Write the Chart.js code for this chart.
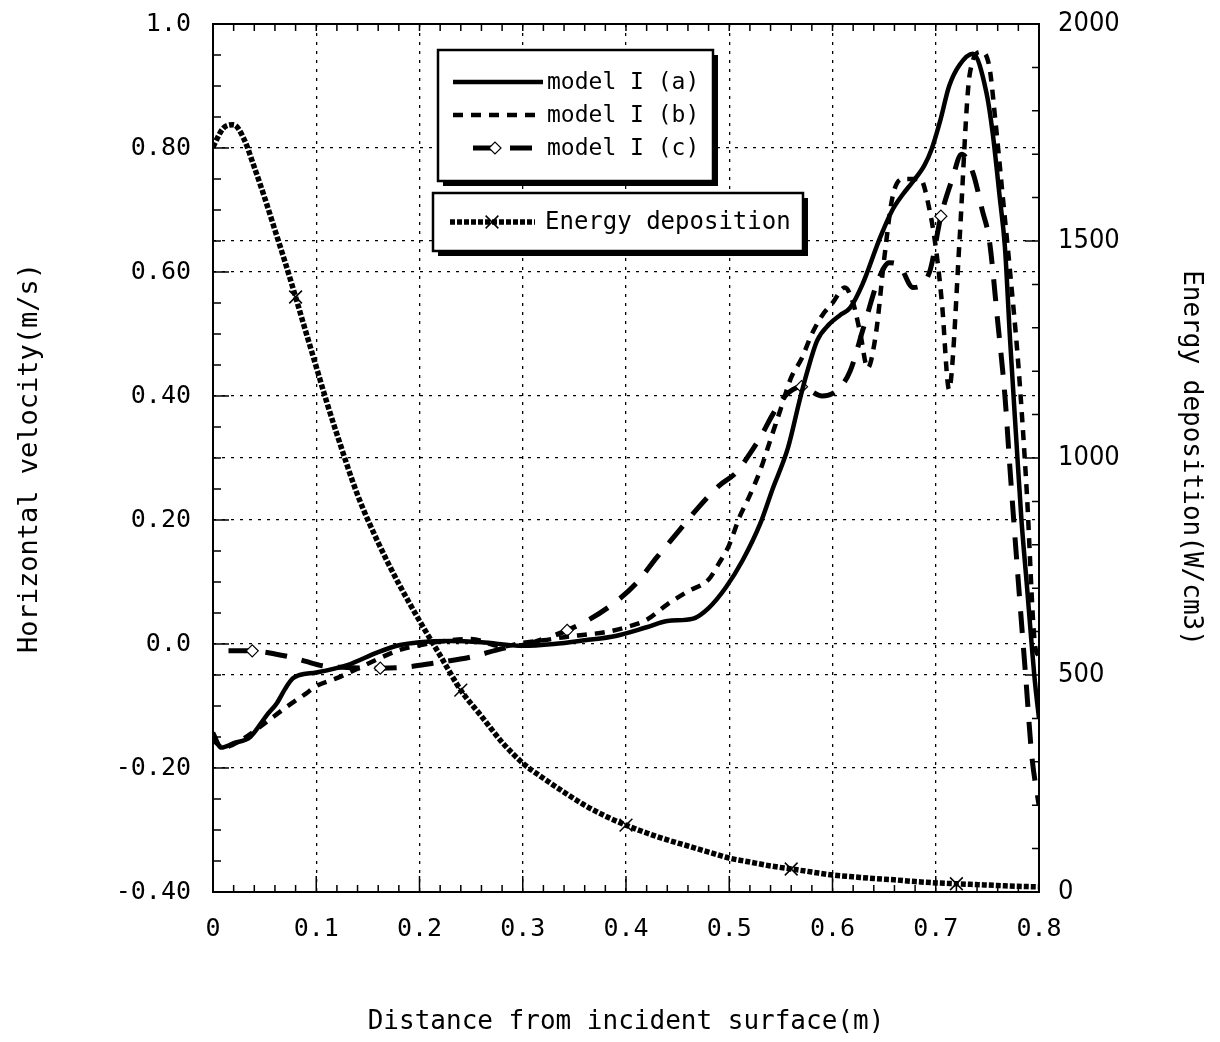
<!DOCTYPE html>
<html>
<head>
<meta charset="utf-8">
<script src="https://cdn.jsdelivr.net/npm/chart.js@4.4.0/dist/chart.umd.min.js"></script>
<style>
    html, body { margin: 0; padding: 0; background: #fff; }
    #wrap { width: 1220px; height: 1042px; }
</style>
</head>
<body>
<div id="wrap"><canvas id="chart"></canvas></div>
<script>
// tick labels as printed on the figure
const xTickLabels = ['0', '0.1', '0.2', '0.3', '0.4', '0.5', '0.6', '0.7', '0.8'];
const velTickLabels = ['-0.40', '-0.20', '0.0', '0.20', '0.40', '0.60', '0.80', '1.0'];
const energyTickLabels = ['0', '500', '1000', '1500', '2000'];

// model I (a) - solid
const distA = [0, 0.008, 0.02, 0.036, 0.052, 0.062, 0.07, 0.077, 0.084, 0.1,
    0.13, 0.16, 0.18, 0.2, 0.23, 0.26, 0.3, 0.33, 0.36, 0.39,
    0.42, 0.44, 0.465, 0.48, 0.497, 0.513, 0.53, 0.542, 0.557, 0.568,
    0.575, 0.585, 0.597, 0.607, 0.617, 0.629, 0.646, 0.658, 0.668, 0.678,
    0.689, 0.696, 0.704, 0.713, 0.723, 0.736, 0.749, 0.755, 0.762, 0.767,
    0.772, 0.778, 0.783, 0.788, 0.796, 0.8];
const velA = [-0.143, -0.167, -0.16, -0.15, -0.115, -0.095, -0.072, -0.056, -0.05, -0.046,
    -0.034, -0.013, -0.002, 0.003, 0.005, 0.003, -0.003, 0.0, 0.006, 0.013,
    0.027, 0.037, 0.041, 0.058, 0.092, 0.135, 0.194, 0.25, 0.317, 0.392,
    0.436, 0.489, 0.516, 0.53, 0.542, 0.58, 0.655, 0.70, 0.725, 0.746,
    0.772, 0.798, 0.842, 0.9, 0.934, 0.952, 0.89, 0.826, 0.72, 0.64,
    0.49, 0.33, 0.2, 0.10, -0.06, -0.12];

// model I (b) - short dashes
const distB = [0, 0.01, 0.03, 0.05, 0.07, 0.09, 0.1, 0.12, 0.14, 0.16,
    0.18, 0.2, 0.22, 0.25, 0.28, 0.3, 0.32, 0.34, 0.36, 0.38,
    0.4, 0.42, 0.44, 0.46, 0.48, 0.49, 0.5, 0.51, 0.52, 0.53,
    0.54, 0.55, 0.56, 0.57, 0.58, 0.59, 0.6, 0.612, 0.62, 0.627,
    0.634, 0.642, 0.65, 0.658, 0.668, 0.685, 0.694, 0.7, 0.706, 0.713,
    0.716, 0.723, 0.733, 0.744, 0.752, 0.758, 0.765, 0.772, 0.78, 0.788,
    0.796, 0.8];
const velB = [-0.155, -0.167, -0.152, -0.128, -0.103, -0.08, -0.068, -0.055, -0.04, -0.024,
    -0.01, -0.002, 0.004, 0.008, -0.004, 0.002, 0.006, 0.011, 0.015, 0.019,
    0.027, 0.039, 0.064, 0.085, 0.104, 0.13, 0.16, 0.205, 0.24, 0.28,
    0.33, 0.38, 0.43, 0.46, 0.5, 0.53, 0.55, 0.575, 0.55, 0.50,
    0.445, 0.50, 0.62, 0.72, 0.75, 0.75, 0.70, 0.64, 0.55, 0.41,
    0.45, 0.65, 0.92, 0.955, 0.93, 0.84, 0.72, 0.60, 0.45, 0.25,
    0.0, -0.02];

// model I (c) - long dashes with open markers
const distC = [0.015, 0.038, 0.06, 0.075, 0.09, 0.106, 0.13, 0.162, 0.188, 0.213,
    0.25, 0.281, 0.3, 0.32, 0.343, 0.365, 0.39, 0.41, 0.43, 0.45,
    0.47, 0.49, 0.507, 0.52, 0.532, 0.542, 0.554, 0.57, 0.59, 0.605,
    0.617, 0.63, 0.645, 0.655, 0.665, 0.678, 0.694, 0.705, 0.716, 0.725,
    0.736, 0.745, 0.752, 0.76, 0.767, 0.772, 0.78, 0.787, 0.793, 0.8];
const velC = [-0.011, -0.011, -0.016, -0.021, -0.028, -0.035, -0.038, -0.039, -0.037, -0.031,
    -0.021, -0.007, -0.002, 0.008, 0.022, 0.04, 0.068, 0.098, 0.14, 0.18,
    0.22, 0.255, 0.277, 0.307, 0.339, 0.37, 0.40, 0.415, 0.40, 0.41,
    0.44, 0.51, 0.59, 0.615, 0.61, 0.575, 0.60, 0.69, 0.75, 0.79,
    0.76, 0.70, 0.65, 0.52, 0.40, 0.28, 0.10, -0.05, -0.18, -0.26];
const markC = [0.038, 0.162, 0.343, 0.57, 0.705];

// energy deposition (W/cm3) - right axis
const distE = [0, 0.01, 0.02, 0.03, 0.04, 0.05, 0.06, 0.07, 0.08, 0.09, 0.1, 0.11,
    0.12, 0.14, 0.16, 0.18, 0.2, 0.22, 0.24, 0.26, 0.28, 0.3,
    0.32, 0.34, 0.36, 0.38, 0.4, 0.42, 0.44, 0.46, 0.48, 0.5,
    0.52, 0.54, 0.56, 0.58, 0.6, 0.62, 0.64, 0.66, 0.68, 0.7,
    0.72, 0.74, 0.76, 0.78, 0.8];
const energy = [1717, 1760, 1768, 1735, 1670, 1600, 1525, 1450, 1371, 1290, 1210, 1130,
    1055, 915, 805, 710, 625, 545, 465, 405, 345, 297,
    262, 230, 200, 175, 154, 136, 120, 106, 92, 78,
    69, 60, 53, 46, 39, 35, 31, 28, 24, 21,
    19, 17, 15, 13, 12];
const markE = [0.08, 0.24, 0.4, 0.56, 0.72];

const MONO = '"DejaVu Sans Mono", monospace';
const NARROW = '"Liberation Sans Narrow", "DejaVu Sans Condensed", "DejaVu Sans Mono", sans-serif';

const toPoints = (xs, ys) => xs.map((x, i) => ({ x: x, y: ys[i] }));
const markAt = (list, r) => c => (c.raw && list.includes(c.raw.x)) ? r : 0;

// grid: dotted lines, invisible outer ticks used only as label spacing
const dottedGrid = len => ({
    color: '#000',
    lineWidth: 1.3,
    drawTicks: true,
    tickLength: len,
    tickColor: 'rgba(0,0,0,0)'
});

// inward tick marks and plot frame, like the original plot
const axisDecor = {
    id: 'axisDecor',
    afterDatasetsDraw(chart) {
        const { ctx, chartArea: a, scales: { x, y, y2 } } = chart;
        ctx.save();
        ctx.strokeStyle = '#000';
        ctx.lineWidth = 1.5;
        ctx.beginPath();
        for (let i = 0; i <= 40; i++) {
            const px = x.getPixelForValue(i * 0.02);
            ctx.moveTo(px, a.bottom);
            ctx.lineTo(px, a.bottom - (i % 5 === 0 ? 16 : 7));
            ctx.moveTo(px, a.top);
            ctx.lineTo(px, a.top + 7);
        }
        for (let i = 0; i <= 28; i++) {
            const py = y.getPixelForValue(-0.4 + i * 0.05);
            ctx.moveTo(a.left, py);
            ctx.lineTo(a.left + (i % 4 === 0 ? 16 : 8), py);
        }
        for (let i = 0; i <= 20; i++) {
            const py = y2.getPixelForValue(i * 100);
            ctx.moveTo(a.right, py);
            ctx.lineTo(a.right - (i % 5 === 0 ? 14 : 7), py);
        }
        ctx.stroke();
        ctx.lineWidth = 2;
        ctx.strokeRect(a.left, a.top, a.right - a.left, a.bottom - a.top);
        ctx.restore();
    }
};

// the two boxed legends with drop shadows
const boxLegend = {
    id: 'boxLegend',
    afterDraw(chart) {
        const ctx = chart.ctx;
        const ds = chart.data.datasets;

        const box = (x, y, w, h) => {
            ctx.save();
            ctx.fillStyle = '#000';
            ctx.fillRect(x + 5, y + 5, w, h);
            ctx.fillStyle = '#fff';
            ctx.fillRect(x, y, w, h);
            ctx.lineWidth = 2.5;
            ctx.strokeStyle = '#000';
            ctx.strokeRect(x, y, w, h);
            ctx.restore();
        };

        const sample = (d, x1, x2, yy, markX, label, x3, size) => {
            ctx.save();
            ctx.strokeStyle = '#000';
            ctx.lineWidth = d.borderWidth;
            ctx.setLineDash(d.borderDash || []);
            ctx.beginPath();
            ctx.moveTo(x1, yy);
            ctx.lineTo(x2, yy);
            ctx.stroke();
            ctx.setLineDash([]);
            if (markX) {
                ctx.fillStyle = '#fff';
                ctx.lineWidth = d.pointBorderWidth;
                Chart.helpers.drawPoint(ctx, {
                    pointStyle: d.pointStyle, radius: d.legendRadius,
                    borderWidth: d.pointBorderWidth, rotation: 0
                }, markX, yy);
            }
            ctx.fillStyle = '#000';
            ctx.font = size + 'px ' + MONO;
            ctx.textBaseline = 'middle';
            ctx.fillText(label, x3, yy + 1);
            ctx.restore();
        };

        box(438, 50, 275, 131);
        sample(ds[0], 453, 543, 82, null, ds[0].label, 547, 23);
        sample(ds[1], 453, 543, 115, null, ds[1].label, 547, 23);
        sample(ds[2], 473, 537, 148, 495, ds[2].label, 547, 23);

        box(433, 193, 370, 58);
        sample(ds[3], 450, 535, 222, 492, ds[3].label, 545, 24);
    }
};

new Chart(document.getElementById('chart'), {
    type: 'line',
    data: {
        datasets: [
            {
                label: 'model I (a)',
                data: toPoints(distA, velA),
                yAxisID: 'y',
                borderColor: '#000',
                borderWidth: 4.5,
                pointRadius: 0,
                cubicInterpolationMode: 'monotone'
            },
            {
                label: 'model I (b)',
                data: toPoints(distB, velB),
                yAxisID: 'y',
                borderColor: '#000',
                borderWidth: 4.5,
                borderDash: [10, 8],
                pointRadius: 0,
                cubicInterpolationMode: 'monotone'
            },
            {
                label: 'model I (c)',
                data: toPoints(distC, velC),
                yAxisID: 'y',
                borderColor: '#000',
                borderWidth: 5,
                borderDash: [22, 15],
                pointStyle: 'rectRot',
                pointRadius: markAt(markC, 6),
                legendRadius: 6,
                pointBackgroundColor: '#fff',
                pointBorderColor: '#000',
                pointBorderWidth: 1.2,
                cubicInterpolationMode: 'monotone'
            },
            {
                label: 'Energy deposition',
                data: toPoints(distE, energy),
                yAxisID: 'y2',
                borderColor: '#000',
                borderWidth: 5.5,
                borderDash: [5, 2],
                pointStyle: 'crossRot',
                pointRadius: markAt(markE, 9),
                legendRadius: 9,
                pointBorderColor: '#000',
                pointBorderWidth: 1.5,
                cubicInterpolationMode: 'monotone'
            }
        ]
    },
    options: {
        responsive: true,
        maintainAspectRatio: false,
        animation: false,
        events: [],
        layout: { padding: { top: 24, left: 0, right: 0, bottom: 0 } },
        plugins: {
            legend: { display: false },
            tooltip: { enabled: false }
        },
        scales: {
            x: {
                type: 'linear',
                min: 0,
                max: 0.8,
                afterFit: s => { s.height = 150; },
                ticks: {
                    stepSize: 0.1,
                    color: '#000',
                    padding: 0,
                    maxRotation: 0,
                    font: { family: MONO, size: 25 },
                    callback: (v, i) => xTickLabels[i]
                },
                grid: dottedGrid(22),
                border: { display: false, dash: [3, 6] },
                title: {
                    display: true,
                    text: 'Distance from incident surface(m)',
                    color: '#000',
                    font: { family: MONO, size: 26 },
                    padding: { top: 0, bottom: 4 }
                }
            },
            y: {
                type: 'linear',
                position: 'left',
                min: -0.4,
                max: 1.0,
                afterFit: s => { s.width = 213; },
                ticks: {
                    stepSize: 0.2,
                    color: '#000',
                    padding: 0,
                    font: { family: MONO, size: 25 },
                    callback: (v, i) => velTickLabels[i]
                },
                grid: dottedGrid(22),
                border: { display: false, dash: [3, 6] },
                title: {
                    display: true,
                    text: 'Horizontal velocity(m/s)',
                    color: '#000',
                    font: { family: MONO, size: 27 },
                    padding: { top: 14, bottom: 0 }
                }
            },
            y2: {
                type: 'linear',
                position: 'right',
                min: 0,
                max: 2000,
                afterFit: s => { s.width = 181; },
                ticks: {
                    stepSize: 500,
                    color: '#000',
                    padding: 0,
                    font: { family: NARROW, size: 27 },
                    callback: (v, i) => energyTickLabels[i]
                },
                grid: dottedGrid(19),
                border: { display: false, dash: [3, 6] },
                title: {
                    display: true,
                    text: 'Energy deposition(W/cm3)',
                    color: '#000',
                    font: { family: MONO, size: 26 },
                    padding: { top: 14, bottom: 0 }
                }
            }
        }
    },
    plugins: [axisDecor, boxLegend]
});
</script>
</body>
</html>
